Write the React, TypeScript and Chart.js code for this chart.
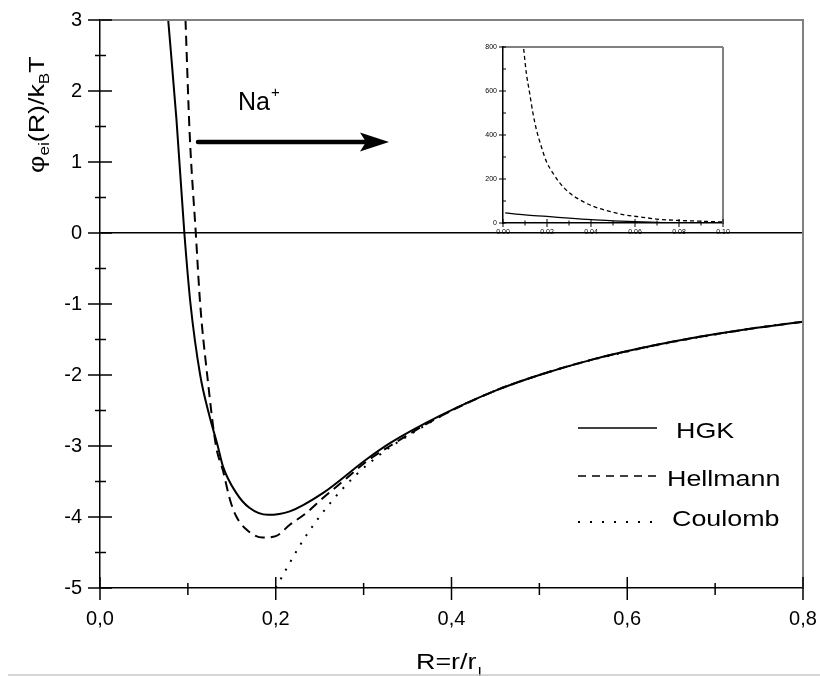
import React, { useEffect, useRef } from 'react';
import { Chart, registerables } from 'chart.js';

Chart.register(...registerables);

// ---- main chart data ----
const hgkR = [0.0776, 0.087, 0.096, 0.103, 0.114, 0.124, 0.134, 0.140, 0.155, 0.170, 0.191, 0.216, 0.254, 0.303, 0.330, 0.386, 0.45, 0.5, 0.561, 0.62, 0.674, 0.74, 0.8];
const hgkPhi = [3.0, 1.6, 0.0, -1.0, -2.0, -2.55, -3.0, -3.29, -3.66, -3.87, -3.97, -3.92, -3.66, -3.19, -2.96, -2.58, -2.22, -2.0, -1.78, -1.61, -1.48, -1.35, -1.25];

const hellR = [0.0973, 0.102, 0.109, 0.114, 0.122, 0.132, 0.140, 0.148, 0.155, 0.167, 0.185, 0.2, 0.216, 0.235, 0.254, 0.28, 0.303, 0.33, 0.386, 0.45, 0.5, 0.561, 0.62, 0.674, 0.74, 0.8];
const hellPhi = [3.0, 1.41, 0.0, -1.0, -2.0, -3.0, -3.35, -3.76, -3.99, -4.18, -4.29, -4.27, -4.11, -3.94, -3.73, -3.46, -3.22, -3.0, -2.59, -2.22, -2.0, -1.78, -1.61, -1.48, -1.35, -1.25];

const coulR = [0.2, 0.227, 0.246, 0.267, 0.292, 0.322, 0.35, 0.4, 0.45, 0.5, 0.55, 0.6, 0.65, 0.7, 0.75, 0.8];
const coulPhi = [-5.0, -4.41, -4.06, -3.73, -3.40, -3.09, -2.86, -2.5, -2.22, -2.0, -1.82, -1.67, -1.54, -1.43, -1.33, -1.25];

const seriesNames = ['HGK', 'Hellmann', 'Coulomb'];

const xTicks = [0, 0.2, 0.4, 0.6, 0.8];
const xMinor = [0.1, 0.3, 0.5, 0.7];
const yTicks = [-5, -4, -3, -2, -1, 0, 1, 2, 3];
const yMinor = [-4.5, -3.5, -2.5, -1.5, -0.5, 0.5, 1.5, 2.5];

// ---- inset data ----
const insetHgkR = [0.001, 0.01, 0.02, 0.03, 0.04, 0.05, 0.06, 0.075, 0.09, 0.1];
const insetHgkV = [46, 37, 30, 22, 15, 10, 6, 1, 0, 0];
const insetHellR = [0.0094, 0.0106, 0.0121, 0.0136, 0.0152, 0.0174, 0.0197, 0.0227, 0.0258, 0.0303, 0.0348, 0.0409, 0.0485, 0.0545, 0.0636, 0.0697, 0.0788, 0.0909, 0.1];
const insetHellV = [791, 682, 591, 500, 424, 348, 280, 227, 182, 136, 106, 76, 53, 38, 26, 18, 12, 8, 4.5];

const insetXTicks = [0, 0.02, 0.04, 0.06, 0.08, 0.1];
const insetXMinor = [0.01, 0.03, 0.05, 0.07, 0.09];
const insetYTicks = [0, 200, 400, 600, 800];
const insetYMinor = [100, 300, 500, 700];

const FONT = '"Liberation Sans", Arial, Helvetica, sans-serif';
const SX = 1.22;

type Run = { t: string; size: number; dy: number };

function drawRuns(ctx: CanvasRenderingContext2D, runs: Run[], x: number, y: number, sx: number) {
  let cx = x;
  for (const r of runs) {
    ctx.save();
    ctx.font = `${r.size}px ${FONT}`;
    ctx.textAlign = 'left';
    ctx.textBaseline = 'alphabetic';
    ctx.fillStyle = '#000';
    const w = ctx.measureText(r.t).width * sx;
    ctx.translate(cx, y + r.dy);
    ctx.scale(sx, 1);
    ctx.fillText(r.t, 0, 0);
    ctx.restore();
    cx += w;
  }
  return cx - x;
}

function line(ctx: CanvasRenderingContext2D, x1: number, y1: number, x2: number, y2: number, w: number, color = '#000', dash: number[] = []) {
  ctx.save();
  ctx.strokeStyle = color;
  ctx.lineWidth = w;
  ctx.setLineDash(dash);
  ctx.beginPath();
  ctx.moveTo(x1, y1);
  ctx.lineTo(x2, y2);
  ctx.stroke();
  ctx.restore();
}

const mainDecor = {
  id: 'mainDecor',
  afterDraw(chart: any) {
    const ctx: CanvasRenderingContext2D = chart.ctx;
    const { left, right, top, bottom } = chart.chartArea;
    const xs = chart.scales.x;
    const ys = chart.scales.y;

    // frame top & right (gray)
    line(ctx, left, top, right + 1, top, 2, '#808080');
    line(ctx, right, top, right, bottom, 2, '#808080');

    // y ticks
    for (const v of yTicks) {
      const p = ys.getPixelForValue(v);
      line(ctx, left - 12, p, left + 12, p, 1.5);
    }
    for (const v of yMinor) {
      const p = ys.getPixelForValue(v);
      line(ctx, left - 5, p, left + 6, p, 1.5);
    }
    // x ticks
    for (const v of xTicks) {
      const p = xs.getPixelForValue(v);
      line(ctx, p, bottom - 11, p, bottom + 12, 1.5);
    }
    for (const v of xMinor) {
      const p = xs.getPixelForValue(v);
      line(ctx, p, bottom - 5, p, bottom + 7, 1.5);
    }

    // legend
    const lx1 = 578, lx2 = 657;
    line(ctx, lx1, 428, lx2, 428, 1.6);
    line(ctx, lx1, 476, lx2, 476, 1.6, '#000', [8, 6]);
    line(ctx, lx1, 522, lx2 - 5, 522, 2, '#000', [2, 10]);
    drawRuns(ctx, [{ t: seriesNames[0], size: 22, dy: 0 }], 676, 438, SX);
    drawRuns(ctx, [{ t: seriesNames[1], size: 22, dy: 0 }], 667, 486, SX);
    drawRuns(ctx, [{ t: seriesNames[2], size: 22, dy: 0 }], 672, 526, SX);

    // Na+ and arrow
    const w = drawRuns(ctx, [{ t: 'Na', size: 25, dy: 0 }], 238, 110, 1.0);
    drawRuns(ctx, [{ t: '+', size: 15, dy: -13 }], 238 + w + 1, 110, 1.0);
    ctx.save();
    ctx.strokeStyle = '#000';
    ctx.lineWidth = 4.5;
    ctx.lineCap = 'round';
    ctx.beginPath();
    ctx.moveTo(198, 142);
    ctx.lineTo(372, 142);
    ctx.stroke();
    ctx.fillStyle = '#000';
    ctx.beginPath();
    ctx.moveTo(389, 142);
    ctx.lineTo(360, 132.5);
    ctx.lineTo(366, 142);
    ctx.lineTo(360, 151.5);
    ctx.closePath();
    ctx.fill();
    ctx.restore();

    // x title
    const wx = drawRuns(ctx, [{ t: 'R=r/r', size: 22, dy: 0 }], 416, 669, SX);
    drawRuns(ctx, [{ t: 'I', size: 13, dy: 7 }], 416 + wx + 1, 669, SX);

    // y title (rotated)
    ctx.save();
    ctx.translate(44, 173);
    ctx.rotate(-Math.PI / 2);
    drawRuns(ctx, [
      { t: 'φ', size: 22, dy: 0 },
      { t: 'ei', size: 14, dy: 5 },
      { t: '(R)/k', size: 22, dy: 0 },
      { t: 'B', size: 14, dy: 5 },
      { t: 'T', size: 22, dy: 0 },
    ], 0, 0, SX);
    ctx.restore();

    // bottom light gray line
    line(ctx, 8, 675, 820, 675, 1.5, '#c8c8c8');
  },
};

const insetDecor = {
  id: 'insetDecor',
  afterDraw(chart: any) {
    const ctx: CanvasRenderingContext2D = chart.ctx;
    const { left, right, top, bottom } = chart.chartArea;
    const xs = chart.scales.x;
    const ys = chart.scales.y;
    line(ctx, left, top, right, top, 1, '#000');
    line(ctx, right, top, right, bottom, 2, '#808080');
    for (const v of insetYTicks) {
      const p = ys.getPixelForValue(v);
      line(ctx, left - 4, p, left + 3, p, 1);
    }
    for (const v of insetYMinor) {
      const p = ys.getPixelForValue(v);
      line(ctx, left, p, left + 3, p, 1);
    }
    for (const v of insetXTicks) {
      const p = xs.getPixelForValue(v);
      line(ctx, p, bottom - 4, p, bottom + 4, 1);
    }
    for (const v of insetXMinor) {
      const p = xs.getPixelForValue(v);
      line(ctx, p, bottom - 2.5, p, bottom + 2.5, 1);
    }
  },
};

function toPts(xs: number[], ys: number[]) {
  return xs.map((x, i) => ({ x, y: ys[i] }));
}

const noPadX = (h: number) => (s: any) => { s.height = h; s.paddingLeft = 0; s.paddingRight = 0; };
const noPadY = (w: number) => (s: any) => { s.width = w; s.paddingTop = 0; s.paddingBottom = 0; };

export default function App() {
  const mainRef = useRef<HTMLCanvasElement>(null);
  const insetRef = useRef<HTMLCanvasElement>(null);

  useEffect(() => {
    if (!mainRef.current || !insetRef.current) return;
    const main = new Chart(mainRef.current, {
      type: 'scatter',
      data: {
        datasets: [
          { label: seriesNames[0], data: toPts(hgkR, hgkPhi), showLine: true, borderColor: '#000', borderWidth: 2, pointRadius: 0, cubicInterpolationMode: 'monotone' } as any,
          { label: seriesNames[1], data: toPts(hellR, hellPhi), showLine: true, borderColor: '#000', borderWidth: 2, borderDash: [10, 6], pointRadius: 0, cubicInterpolationMode: 'monotone' } as any,
          { label: seriesNames[2], data: toPts(coulR, coulPhi), showLine: true, borderColor: '#000', borderWidth: 2, borderDash: [2, 8], pointRadius: 0, cubicInterpolationMode: 'monotone' } as any,
        ],
      },
      options: {
        animation: false,
        responsive: false,
        devicePixelRatio: 1,
        layout: { padding: { top: 20, right: 17, left: 0, bottom: 0 } },
        plugins: { legend: { display: false }, tooltip: { enabled: false } },
        scales: {
          x: {
            type: 'linear',
            min: 0,
            max: 0.8,
            afterBuildTicks: (s: any) => { s.ticks = xTicks.map((v) => ({ value: v })); },
            afterFit: noPadX(88),
            grid: { display: false, drawTicks: false },
            border: { display: true, color: '#000', width: 1.5 },
            ticks: {
              color: '#000',
              padding: 19,
              maxRotation: 0,
              font: { family: FONT, size: 20 },
              callback: (v: any) => Number(v).toFixed(1).replace('.', ','),
            },
          },
          y: {
            type: 'linear',
            min: -5,
            max: 3,
            afterBuildTicks: (s: any) => { s.ticks = yTicks.map((v) => ({ value: v })); },
            afterFit: noPadY(100),
            grid: {
              display: true,
              drawTicks: false,
              lineWidth: 1.5,
              color: (c: any) => (c.tick && c.tick.value === 0 ? '#000' : 'rgba(0,0,0,0)'),
            },
            border: { display: true, color: '#000', width: 1.5 },
            ticks: {
              color: '#000',
              padding: 18,
              font: { family: FONT, size: 20 },
              callback: (v: any) => String(v),
            },
          },
        },
      } as any,
      plugins: [mainDecor],
    });

    const inset = new Chart(insetRef.current, {
      type: 'scatter',
      data: {
        datasets: [
          { label: seriesNames[0], data: toPts(insetHgkR, insetHgkV), showLine: true, borderColor: '#000', borderWidth: 1.3, pointRadius: 0, cubicInterpolationMode: 'monotone' } as any,
          { label: seriesNames[1], data: toPts(insetHellR, insetHellV), showLine: true, borderColor: '#000', borderWidth: 1.3, borderDash: [4, 3], pointRadius: 0, cubicInterpolationMode: 'monotone' } as any,
        ],
      },
      options: {
        animation: false,
        responsive: false,
        devicePixelRatio: 1,
        layout: { padding: { top: 17, right: 17, left: 0, bottom: 0 } },
        plugins: { legend: { display: false }, tooltip: { enabled: false } },
        scales: {
          x: {
            type: 'linear',
            min: 0,
            max: 0.1,
            afterBuildTicks: (s: any) => { s.ticks = insetXTicks.map((v) => ({ value: v })); },
            afterFit: noPadX(27),
            grid: { display: false, drawTicks: false },
            border: { display: true, color: '#000', width: 1.5 },
            ticks: {
              color: '#000',
              padding: 5,
              maxRotation: 0,
              autoSkip: false,
              font: { family: FONT, size: 7 },
              callback: (v: any) => Number(v).toFixed(2),
            },
          },
          y: {
            type: 'linear',
            min: 0,
            max: 800,
            afterBuildTicks: (s: any) => { s.ticks = insetYTicks.map((v) => ({ value: v })); },
            afterFit: noPadY(33),
            grid: { display: false, drawTicks: false },
            border: { display: true, color: '#000', width: 1.5 },
            ticks: {
              color: '#000',
              padding: 6,
              font: { family: FONT, size: 7 },
              callback: (v: any) => String(v),
            },
          },
        },
      } as any,
      plugins: [insetDecor],
    });

    return () => {
      main.destroy();
      inset.destroy();
    };
  }, []);

  return (
    <div style={{ position: 'absolute', left: 0, top: 0, width: 820, height: 676, background: '#fff' }}>
      <canvas ref={mainRef} width={820} height={676} style={{ position: 'absolute', left: 0, top: 0, width: 820, height: 676 }} />
      <canvas ref={insetRef} width={270} height={220} style={{ position: 'absolute', left: 470, top: 30, width: 270, height: 220 }} />
    </div>
  );
}
